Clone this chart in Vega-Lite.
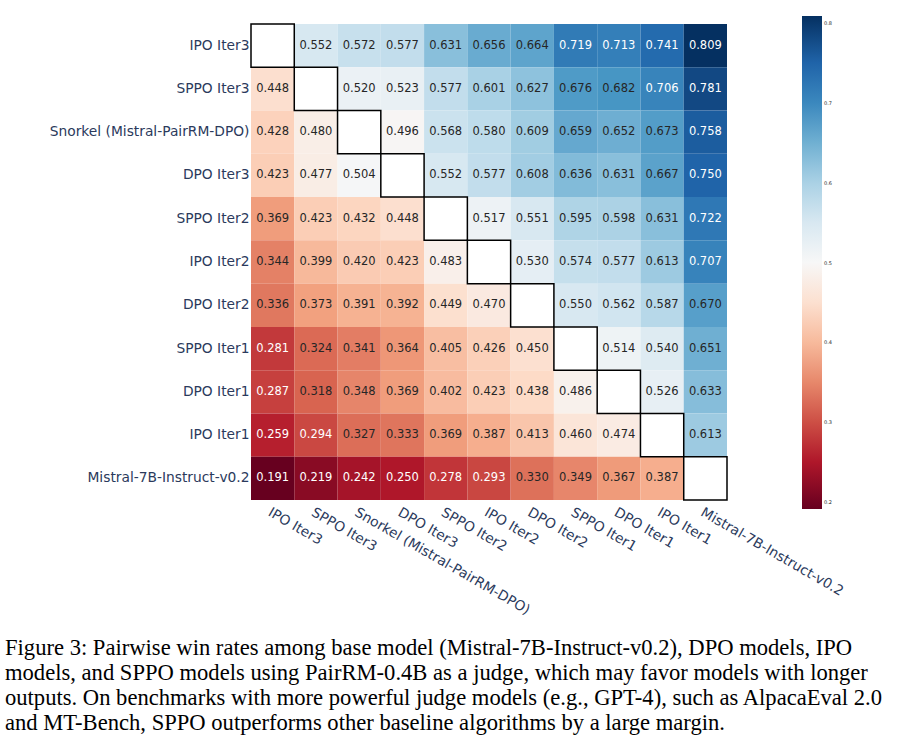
{
 "$schema": "https://vega.github.io/schema/vega-lite/v6.json",
 "width": 476,
 "height": 476,
 "autosize": {"type": "none"},
 "padding": {"left": 251, "top": 24, "right": 171, "bottom": 238},
 "background": "white",
 "title": {
  "text": [
   "Figure 3: Pairwise win rates among base model (Mistral-7B-Instruct-v0.2), DPO models, IPO",
   "models, and SPPO models using PairRM-0.4B as a judge, which may favor models with longer",
   "outputs. On benchmarks with more powerful judge models (e.g., GPT-4), such as AlpacaEval 2.0",
   "and MT-Bench, SPPO outperforms other baseline algorithms by a large margin."
  ],
  "orient": "bottom",
  "anchor": "start",
  "frame": "group",
  "dx": -246,
  "offset": 20,
  "font": "Liberation Serif",
  "fontSize": 22.6,
  "fontWeight": "normal",
  "color": "black",
  "lineHeight": 25,
  "baseline": "top"
 },
 "data": {"values": [
  {"r":"IPO Iter3","c":"IPO Iter3","v":null},
  {"r":"IPO Iter3","c":"SPPO Iter3","v":0.552},
  {"r":"IPO Iter3","c":"Snorkel (Mistral-PairRM-DPO)","v":0.572},
  {"r":"IPO Iter3","c":"DPO Iter3","v":0.577},
  {"r":"IPO Iter3","c":"SPPO Iter2","v":0.631},
  {"r":"IPO Iter3","c":"IPO Iter2","v":0.656},
  {"r":"IPO Iter3","c":"DPO Iter2","v":0.664},
  {"r":"IPO Iter3","c":"SPPO Iter1","v":0.719},
  {"r":"IPO Iter3","c":"DPO Iter1","v":0.713},
  {"r":"IPO Iter3","c":"IPO Iter1","v":0.741},
  {"r":"IPO Iter3","c":"Mistral-7B-Instruct-v0.2","v":0.809},

  {"r":"SPPO Iter3","c":"IPO Iter3","v":0.448},
  {"r":"SPPO Iter3","c":"SPPO Iter3","v":null},
  {"r":"SPPO Iter3","c":"Snorkel (Mistral-PairRM-DPO)","v":0.520},
  {"r":"SPPO Iter3","c":"DPO Iter3","v":0.523},
  {"r":"SPPO Iter3","c":"SPPO Iter2","v":0.577},
  {"r":"SPPO Iter3","c":"IPO Iter2","v":0.601},
  {"r":"SPPO Iter3","c":"DPO Iter2","v":0.627},
  {"r":"SPPO Iter3","c":"SPPO Iter1","v":0.676},
  {"r":"SPPO Iter3","c":"DPO Iter1","v":0.682},
  {"r":"SPPO Iter3","c":"IPO Iter1","v":0.706},
  {"r":"SPPO Iter3","c":"Mistral-7B-Instruct-v0.2","v":0.781},

  {"r":"Snorkel (Mistral-PairRM-DPO)","c":"IPO Iter3","v":0.428},
  {"r":"Snorkel (Mistral-PairRM-DPO)","c":"SPPO Iter3","v":0.480},
  {"r":"Snorkel (Mistral-PairRM-DPO)","c":"Snorkel (Mistral-PairRM-DPO)","v":null},
  {"r":"Snorkel (Mistral-PairRM-DPO)","c":"DPO Iter3","v":0.496},
  {"r":"Snorkel (Mistral-PairRM-DPO)","c":"SPPO Iter2","v":0.568},
  {"r":"Snorkel (Mistral-PairRM-DPO)","c":"IPO Iter2","v":0.580},
  {"r":"Snorkel (Mistral-PairRM-DPO)","c":"DPO Iter2","v":0.609},
  {"r":"Snorkel (Mistral-PairRM-DPO)","c":"SPPO Iter1","v":0.659},
  {"r":"Snorkel (Mistral-PairRM-DPO)","c":"DPO Iter1","v":0.652},
  {"r":"Snorkel (Mistral-PairRM-DPO)","c":"IPO Iter1","v":0.673},
  {"r":"Snorkel (Mistral-PairRM-DPO)","c":"Mistral-7B-Instruct-v0.2","v":0.758},

  {"r":"DPO Iter3","c":"IPO Iter3","v":0.423},
  {"r":"DPO Iter3","c":"SPPO Iter3","v":0.477},
  {"r":"DPO Iter3","c":"Snorkel (Mistral-PairRM-DPO)","v":0.504},
  {"r":"DPO Iter3","c":"DPO Iter3","v":null},
  {"r":"DPO Iter3","c":"SPPO Iter2","v":0.552},
  {"r":"DPO Iter3","c":"IPO Iter2","v":0.577},
  {"r":"DPO Iter3","c":"DPO Iter2","v":0.608},
  {"r":"DPO Iter3","c":"SPPO Iter1","v":0.636},
  {"r":"DPO Iter3","c":"DPO Iter1","v":0.631},
  {"r":"DPO Iter3","c":"IPO Iter1","v":0.667},
  {"r":"DPO Iter3","c":"Mistral-7B-Instruct-v0.2","v":0.750},

  {"r":"SPPO Iter2","c":"IPO Iter3","v":0.369},
  {"r":"SPPO Iter2","c":"SPPO Iter3","v":0.423},
  {"r":"SPPO Iter2","c":"Snorkel (Mistral-PairRM-DPO)","v":0.432},
  {"r":"SPPO Iter2","c":"DPO Iter3","v":0.448},
  {"r":"SPPO Iter2","c":"SPPO Iter2","v":null},
  {"r":"SPPO Iter2","c":"IPO Iter2","v":0.517},
  {"r":"SPPO Iter2","c":"DPO Iter2","v":0.551},
  {"r":"SPPO Iter2","c":"SPPO Iter1","v":0.595},
  {"r":"SPPO Iter2","c":"DPO Iter1","v":0.598},
  {"r":"SPPO Iter2","c":"IPO Iter1","v":0.631},
  {"r":"SPPO Iter2","c":"Mistral-7B-Instruct-v0.2","v":0.722},

  {"r":"IPO Iter2","c":"IPO Iter3","v":0.344},
  {"r":"IPO Iter2","c":"SPPO Iter3","v":0.399},
  {"r":"IPO Iter2","c":"Snorkel (Mistral-PairRM-DPO)","v":0.420},
  {"r":"IPO Iter2","c":"DPO Iter3","v":0.423},
  {"r":"IPO Iter2","c":"SPPO Iter2","v":0.483},
  {"r":"IPO Iter2","c":"IPO Iter2","v":null},
  {"r":"IPO Iter2","c":"DPO Iter2","v":0.530},
  {"r":"IPO Iter2","c":"SPPO Iter1","v":0.574},
  {"r":"IPO Iter2","c":"DPO Iter1","v":0.577},
  {"r":"IPO Iter2","c":"IPO Iter1","v":0.613},
  {"r":"IPO Iter2","c":"Mistral-7B-Instruct-v0.2","v":0.707},

  {"r":"DPO Iter2","c":"IPO Iter3","v":0.336},
  {"r":"DPO Iter2","c":"SPPO Iter3","v":0.373},
  {"r":"DPO Iter2","c":"Snorkel (Mistral-PairRM-DPO)","v":0.391},
  {"r":"DPO Iter2","c":"DPO Iter3","v":0.392},
  {"r":"DPO Iter2","c":"SPPO Iter2","v":0.449},
  {"r":"DPO Iter2","c":"IPO Iter2","v":0.470},
  {"r":"DPO Iter2","c":"DPO Iter2","v":null},
  {"r":"DPO Iter2","c":"SPPO Iter1","v":0.550},
  {"r":"DPO Iter2","c":"DPO Iter1","v":0.562},
  {"r":"DPO Iter2","c":"IPO Iter1","v":0.587},
  {"r":"DPO Iter2","c":"Mistral-7B-Instruct-v0.2","v":0.670},

  {"r":"SPPO Iter1","c":"IPO Iter3","v":0.281},
  {"r":"SPPO Iter1","c":"SPPO Iter3","v":0.324},
  {"r":"SPPO Iter1","c":"Snorkel (Mistral-PairRM-DPO)","v":0.341},
  {"r":"SPPO Iter1","c":"DPO Iter3","v":0.364},
  {"r":"SPPO Iter1","c":"SPPO Iter2","v":0.405},
  {"r":"SPPO Iter1","c":"IPO Iter2","v":0.426},
  {"r":"SPPO Iter1","c":"DPO Iter2","v":0.450},
  {"r":"SPPO Iter1","c":"SPPO Iter1","v":null},
  {"r":"SPPO Iter1","c":"DPO Iter1","v":0.514},
  {"r":"SPPO Iter1","c":"IPO Iter1","v":0.540},
  {"r":"SPPO Iter1","c":"Mistral-7B-Instruct-v0.2","v":0.651},

  {"r":"DPO Iter1","c":"IPO Iter3","v":0.287},
  {"r":"DPO Iter1","c":"SPPO Iter3","v":0.318},
  {"r":"DPO Iter1","c":"Snorkel (Mistral-PairRM-DPO)","v":0.348},
  {"r":"DPO Iter1","c":"DPO Iter3","v":0.369},
  {"r":"DPO Iter1","c":"SPPO Iter2","v":0.402},
  {"r":"DPO Iter1","c":"IPO Iter2","v":0.423},
  {"r":"DPO Iter1","c":"DPO Iter2","v":0.438},
  {"r":"DPO Iter1","c":"SPPO Iter1","v":0.486},
  {"r":"DPO Iter1","c":"DPO Iter1","v":null},
  {"r":"DPO Iter1","c":"IPO Iter1","v":0.526},
  {"r":"DPO Iter1","c":"Mistral-7B-Instruct-v0.2","v":0.633},

  {"r":"IPO Iter1","c":"IPO Iter3","v":0.259},
  {"r":"IPO Iter1","c":"SPPO Iter3","v":0.294},
  {"r":"IPO Iter1","c":"Snorkel (Mistral-PairRM-DPO)","v":0.327},
  {"r":"IPO Iter1","c":"DPO Iter3","v":0.333},
  {"r":"IPO Iter1","c":"SPPO Iter2","v":0.369},
  {"r":"IPO Iter1","c":"IPO Iter2","v":0.387},
  {"r":"IPO Iter1","c":"DPO Iter2","v":0.413},
  {"r":"IPO Iter1","c":"SPPO Iter1","v":0.460},
  {"r":"IPO Iter1","c":"DPO Iter1","v":0.474},
  {"r":"IPO Iter1","c":"IPO Iter1","v":null},
  {"r":"IPO Iter1","c":"Mistral-7B-Instruct-v0.2","v":0.613},

  {"r":"Mistral-7B-Instruct-v0.2","c":"IPO Iter3","v":0.191},
  {"r":"Mistral-7B-Instruct-v0.2","c":"SPPO Iter3","v":0.219},
  {"r":"Mistral-7B-Instruct-v0.2","c":"Snorkel (Mistral-PairRM-DPO)","v":0.242},
  {"r":"Mistral-7B-Instruct-v0.2","c":"DPO Iter3","v":0.250},
  {"r":"Mistral-7B-Instruct-v0.2","c":"SPPO Iter2","v":0.278},
  {"r":"Mistral-7B-Instruct-v0.2","c":"IPO Iter2","v":0.293},
  {"r":"Mistral-7B-Instruct-v0.2","c":"DPO Iter2","v":0.330},
  {"r":"Mistral-7B-Instruct-v0.2","c":"SPPO Iter1","v":0.349},
  {"r":"Mistral-7B-Instruct-v0.2","c":"DPO Iter1","v":0.367},
  {"r":"Mistral-7B-Instruct-v0.2","c":"IPO Iter1","v":0.387},
  {"r":"Mistral-7B-Instruct-v0.2","c":"Mistral-7B-Instruct-v0.2","v":null}
 ]},
 "encoding": {
  "x": {
   "field": "c", "type": "nominal",
   "sort": ["IPO Iter3","SPPO Iter3","Snorkel (Mistral-PairRM-DPO)","DPO Iter3","SPPO Iter2","IPO Iter2","DPO Iter2","SPPO Iter1","DPO Iter1","IPO Iter1","Mistral-7B-Instruct-v0.2"],
   "scale": {"paddingInner": 0, "paddingOuter": 0},
   "axis": {"orient": "bottom", "title": null, "labelAngle": 30, "labelAlign": "left", "labelBaseline": "top", "ticks": false, "domain": false, "labelPadding": 5, "labelFont": "DejaVu Sans", "labelFontSize": 13.8, "labelColor": "#2b3a5c", "labelLimit": 400}
  },
  "y": {
   "field": "r", "type": "nominal",
   "sort": ["IPO Iter3","SPPO Iter3","Snorkel (Mistral-PairRM-DPO)","DPO Iter3","SPPO Iter2","IPO Iter2","DPO Iter2","SPPO Iter1","DPO Iter1","IPO Iter1","Mistral-7B-Instruct-v0.2"],
   "scale": {"paddingInner": 0, "paddingOuter": 0},
   "axis": {"title": null, "ticks": false, "domain": false, "labelPadding": 2, "labelFont": "DejaVu Sans", "labelFontSize": 13.8, "labelColor": "#2b3a5c", "labelLimit": 400}
  }
 },
 "layer": [
  {
   "transform": [{"filter": "datum.v != null"}],
   "mark": {"type": "rect"},
   "encoding": {
    "color": {
     "field": "v", "type": "quantitative",
     "scale": {
      "domain": [0.191, 0.2528, 0.3146, 0.3764, 0.4382, 0.5, 0.5618, 0.6236, 0.6854, 0.7472, 0.809],
      "range": ["#67001f","#b2182b","#d6604d","#f4a582","#fddbc7","#f7f7f7","#d1e5f0","#92c5de","#4393c3","#2166ac","#053061"],
      "interpolate": "rgb"
     },
     "legend": {"orient": "none", "legendX": 551, "legendY": -8, "direction": "vertical", "gradientLength": 493, "gradientThickness": 20, "title": null, "values": [0.2, 0.3, 0.4, 0.5, 0.6, 0.7, 0.8], "labelFontSize": 5, "labelFont": "DejaVu Sans", "labelColor": "#262626", "labelOffset": 2, "gradientStrokeWidth": 0, "padding": 0}
    }
   }
  },
  {
   "transform": [{"filter": "datum.v == null"}],
   "mark": {"type": "rect", "fill": "white", "stroke": "black", "strokeWidth": 1.5}
  },
  {
   "transform": [{"filter": "datum.v != null"}],
   "mark": {"type": "text", "font": "DejaVu Sans", "fontSize": 11.5},
   "encoding": {
    "text": {"field": "v", "type": "quantitative", "format": ".3f"},
    "color": {"condition": {"test": "datum.v < 0.3 || datum.v > 0.7", "value": "white"}, "value": "#262626"}
   }
  }
 ],
 "config": {"view": {"stroke": null}}
}
